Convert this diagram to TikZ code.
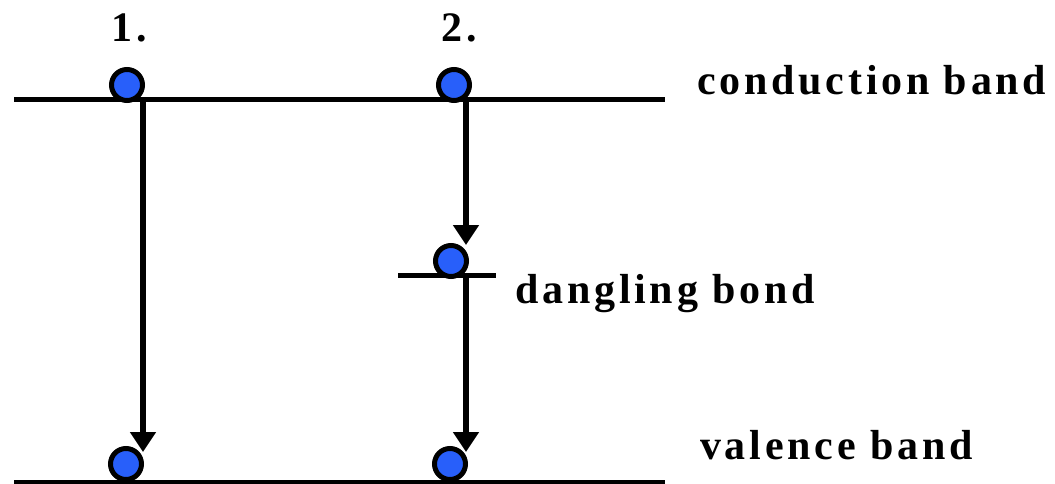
\documentclass[tikz,border=0pt]{standalone}
\usepackage{fontspec}
\setmainfont{Liberation Serif}
\newfontfamily\lblfont[LetterSpace=9]{Liberation Serif}
\usetikzlibrary{arrows.meta, positioning}

\begin{document}
\begin{tikzpicture}[x=1pt, y=-1pt,
  band/.style={line width=5pt},
  electron/.style={circle, draw=black, fill=eblue, line width=5pt, minimum size=31pt, inner sep=0pt},
  trans/.style={line width=6pt, -{Triangle[width=25pt, length=20pt]}},
  lbl/.style={font=\fontsize{42}{42}\lblfont\bfseries, anchor=base west, inner sep=0pt}
]
  \definecolor{eblue}{RGB}{40,95,250}
  \useasboundingbox (0,0) rectangle (1055,484);
  % bands
  \coordinate (cbl) at (14,100);
  \coordinate (cbr) at (665,100);
  \coordinate (vbl) at (14,482);
  \coordinate (vbr) at (665,482);
  \coordinate (dbl) at (398,275);
  \coordinate (dbr) at (496,275);
  \draw[band] (cbl) -- (cbr);
  \draw[band] (vbl) -- (vbr);
  \draw[band] (dbl) -- (dbr);
  % transitions
  \coordinate (a1s) at (143,100);
  \coordinate (a1e) at (143,452);
  \coordinate (a2s) at (466,100);
  \coordinate (a2m) at (466,245);
  \coordinate (a3s) at (466,275);
  \coordinate (a3e) at (466,452);
  \draw[trans] (a1s) -- (a1e);
  \draw[trans] (a2s) -- (a2m);
  \draw[trans] (a3s) -- (a3e);
  % electrons
  \node[electron] (c1) at (127,85) {};
  \node[electron] (c2) at (454,85) {};
  \node[electron] (d2) at (451,261) {};
  \node[electron] (v1) at (126,464) {};
  \node[electron] (v2) at (450,464) {};
  % labels
  \node[lbl, anchor=base] (n1) at (129,42) {1.};
  \node[lbl, anchor=base] (n2) at (459,42) {2.};
  \node[lbl] (cb) at (697,95) {conduction band};
  \node[lbl] (db) at (515,303) {dangling bond};
  \node[lbl] (vb) at (700,459) {valence band};
\end{tikzpicture}
\end{document}
